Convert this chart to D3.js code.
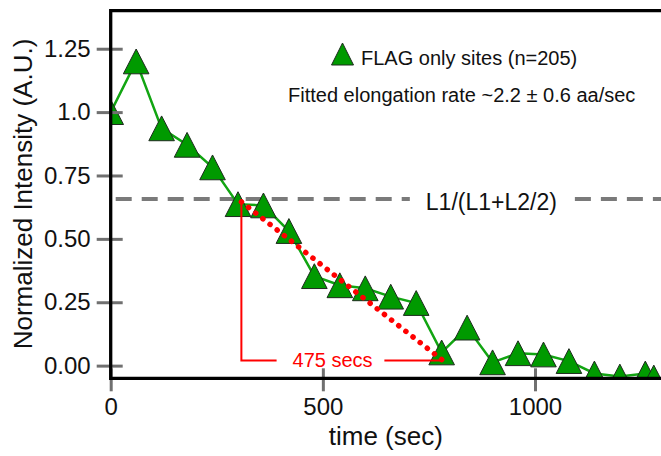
<!DOCTYPE html>
<html>
<head>
<meta charset="utf-8">
<script src="https://cdn.jsdelivr.net/npm/d3@7"></script>
<style>
  html, body { margin: 0; padding: 0; background: #fff; }
  svg { display: block; }
  text { font-family: "Liberation Sans", Arial, sans-serif; }
</style>
</head>
<body>
<svg id="chart" width="661" height="456"></svg>
<script>
// Time points (sec) and normalized intensity for FLAG-only sites
const times = [0, 60, 120, 180, 240, 300, 360, 420, 480, 540, 600, 660, 720,
               780, 840, 900, 960, 1020, 1080, 1140, 1200, 1260, 1280];
const intensity = [1.0, 1.2, 0.936, 0.871, 0.782, 0.637, 0.632, 0.531, 0.353,
                   0.317, 0.305, 0.272, 0.247, 0.052, 0.15, 0.013, 0.049, 0.044,
                   0.018, -0.031, -0.043, -0.031, -0.047];

const xTicks = [0, 500, 1000];
const xTickLabels = ["0", "500", "1000"];
const yTicks = [0, 0.25, 0.5, 0.75, 1.0, 1.25];
const yTickLabels = ["0.00", "0.25", "0.50", "0.75", "1.0", "1.25"];

// Reference level L1/(L1+L2/2) and the fitted run-off interval
const refLevel = 0.657;
const refLabel = "L1/(L1+L2/2)";
const fitStart = [308, 0.646];
const fitEnd = [783, 0.02];
const fitLabel = "475 secs";

const legendLabel = "FLAG only sites (n=205)";
const rateLabel = "Fitted elongation rate ~2.2 \u00b1 0.6 aa/sec";
const xTitle = "time (sec)";
const yTitle = "Normalized Intensity (A.U.)";

const svg = d3.select("#chart");
const plotL = 110.7, plotT = 10.7, plotB = 378.3, plotR = 110.7 + 0.4243 * 1300;

const x = d3.scaleLinear().domain([0, 1300]).range([plotL, plotR]);
const y = d3.scaleLinear().domain([-0.05, 1.40]).range([plotB, plotT]);

const green = "#009a00", lineGreen = "#12a512", red = "#ff0000", gray = "#7a7a7a";

svg.append("defs").append("clipPath").attr("id", "plot")
  .append("rect").attr("x", plotL).attr("y", plotT)
  .attr("width", plotR - plotL).attr("height", plotB - plotT);

// Reference dashed line, broken around its label
const refY = y(refLevel);
const gapA = 705, gapB = 1094;
svg.append("line").attr("x1", x(0) + 5).attr("x2", x(gapA))
  .attr("y1", refY).attr("y2", refY)
  .attr("stroke", gray).attr("stroke-width", 4).attr("stroke-dasharray", "16 10");
svg.append("line").attr("x1", x(gapB)).attr("x2", x(1300))
  .attr("y1", refY).attr("y2", refY)
  .attr("stroke", gray).attr("stroke-width", 4).attr("stroke-dasharray", "16 10");
svg.append("text").attr("x", x((gapA + gapB) / 2) - 1).attr("y", refY + 11)
  .attr("text-anchor", "middle").attr("font-size", 23).attr("fill", "#111")
  .text(refLabel);

// Data line and triangle markers
const plot = svg.append("g").attr("clip-path", "url(#plot)");
const pts = times.map((t, i) => [t, intensity[i]]);
plot.append("path").datum(pts)
  .attr("d", d3.line().x(d => x(d[0])).y(d => y(d[1])))
  .attr("fill", "none").attr("stroke", lineGreen).attr("stroke-width", 2.5);

const tri = (hw, hh) => `M0,${-hh}L${hw},${hh}L${-hw},${hh}Z`;
plot.selectAll("path.mk").data(pts).join("path").attr("class", "mk")
  .attr("d", tri(12.8, 12.4))
  .attr("transform", d => `translate(${x(d[0])},${y(d[1])})`)
  .attr("fill", green).attr("stroke", "#1e2a1e").attr("stroke-width", 1);

// Run-off interval annotation
const xs = x(fitStart[0]), ys = y(fitStart[1]);
const xe = x(fitEnd[0]), ye = y(fitEnd[1]);
svg.append("path")
  .attr("d", `M${xs},${ys}V${ye}H${x(fitStart[0] + 83)}`)
  .attr("fill", "none").attr("stroke", red).attr("stroke-width", 2);
svg.append("line").attr("x1", x(fitEnd[0] - 138)).attr("x2", xe)
  .attr("y1", ye).attr("y2", ye)
  .attr("stroke", red).attr("stroke-width", 2);
svg.append("text").attr("x", x(fitStart[0] + 215)).attr("y", ye + 6.5)
  .attr("text-anchor", "middle").attr("font-size", 20).attr("fill", red)
  .text(fitLabel);
svg.append("line").attr("x1", xs).attr("y1", ys).attr("x2", xe).attr("y2", ye)
  .attr("stroke", red).attr("stroke-width", 5.5)
  .attr("stroke-linecap", "round").attr("stroke-dasharray", "0.1 9");

// Axes
const yAxis = d3.axisLeft(y).tickValues(yTicks)
  .tickFormat((d, i) => yTickLabels[i]).tickSize(13).tickPadding(7);
const gy = svg.append("g").attr("transform", `translate(${plotL},0)`).call(yAxis);
gy.select(".domain").remove();
gy.selectAll(".tick line").attr("x1", 12).attr("x2", -14)
  .attr("stroke", "#707070").attr("stroke-width", 3);
gy.selectAll(".tick text").attr("font-size", 24).attr("fill", "#111")
  .attr("font-family", "Liberation Sans, Arial, sans-serif");

const xAxis = d3.axisBottom(x).tickValues(xTicks)
  .tickFormat((d, i) => xTickLabels[i]).tickSize(13).tickPadding(7);
const gx = svg.append("g").attr("transform", `translate(0,${plotB})`).call(xAxis);
gx.select(".domain").remove();
gx.selectAll(".tick line").attr("y1", -10).attr("y2", 13)
  .attr("stroke", "#707070").attr("stroke-width", 3);
gx.selectAll(".tick text").attr("font-size", 24).attr("fill", "#111")
  .attr("font-family", "Liberation Sans, Arial, sans-serif");

// Frame: left, bottom and top edges
svg.append("path")
  .attr("d", `M${plotR + 5},${plotT}H${plotL}V${plotB}H${plotR + 5}`)
  .attr("fill", "none").attr("stroke", "#000").attr("stroke-width", 3.3);

// Axis titles
svg.append("text").attr("x", (plotL + 661) / 2).attr("y", 445)
  .attr("text-anchor", "middle").attr("font-size", 26).attr("fill", "#111")
  .text(xTitle);
svg.append("text")
  .attr("transform", `translate(32,${(40 + 348) / 2}) rotate(-90)`)
  .attr("text-anchor", "middle").attr("font-size", 26).attr("fill", "#111")
  .text(yTitle);

// Legend and fit annotation
svg.append("path").attr("d", tri(11, 11))
  .attr("transform", `translate(342.5,54)`)
  .attr("fill", green).attr("stroke", "#1e2a1e").attr("stroke-width", 1);
svg.append("text").attr("x", 361).attr("y", 65)
  .attr("font-size", 20).attr("fill", "#111").text(legendLabel);
svg.append("text").attr("x", 288).attr("y", 102)
  .attr("font-size", 20).attr("fill", "#111").text(rateLabel);
</script>
</body>
</html>
